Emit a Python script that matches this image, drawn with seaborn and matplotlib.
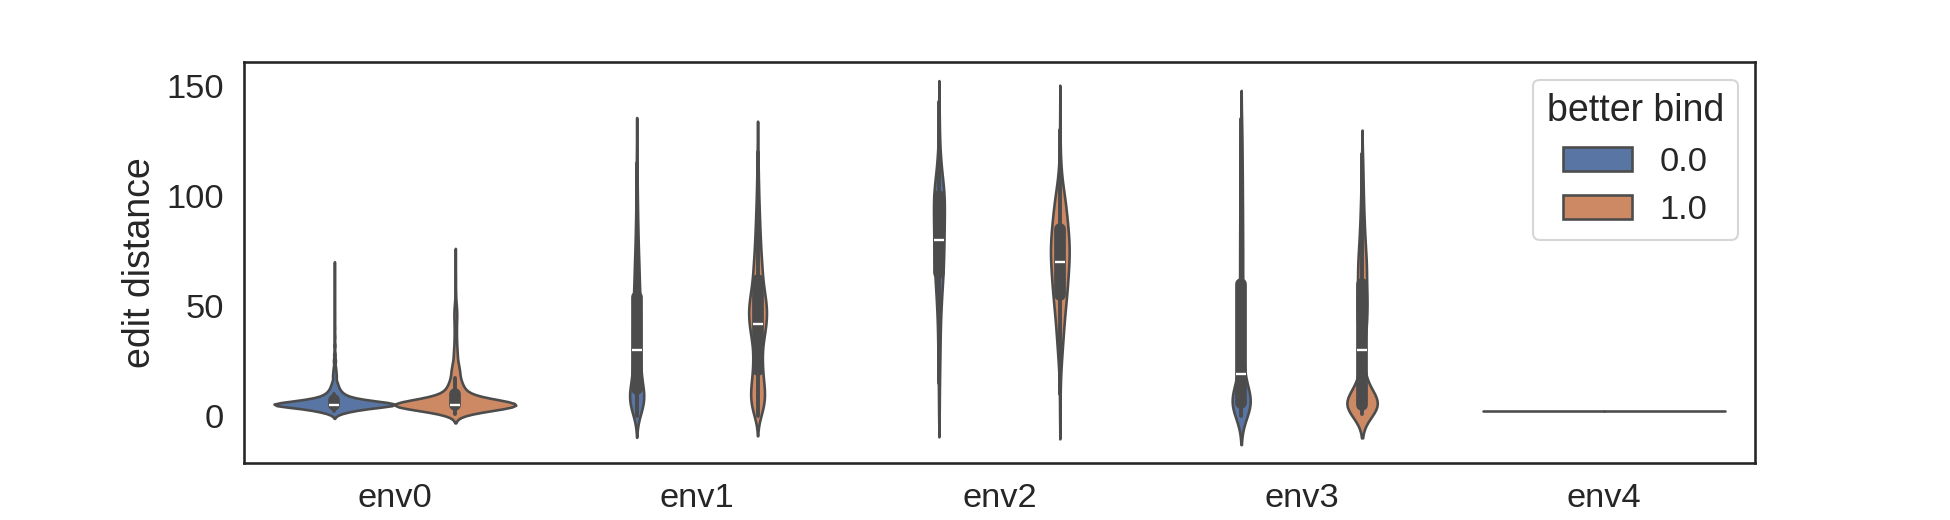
import numpy as np
import pandas as pd
import seaborn as sns
import matplotlib.pyplot as plt

envs = ["env0", "env1", "env2", "env3", "env4"]
hue_levels = [0.0, 1.0]

# edit distance values and how many samples sit at each value, per env / better bind
env0_b_vals = [1, 2, 3, 4, 5, 6, 7, 8, 9, 10, 11, 12, 13, 14, 15, 16, 18, 20, 22, 25, 28, 32, 36, 40, 45, 50, 55, 62, 68]
env0_b_cnts = [110, 270, 540, 680, 1750, 900, 700, 330, 240, 170, 125, 100, 80, 65, 55, 45, 75, 58, 46, 50, 35, 30, 22, 17, 14, 10, 7, 5, 3]
env0_o_vals = [1, 2, 3, 4, 5, 6, 7, 8, 9, 10, 11, 12, 13, 14, 15, 16, 17, 19, 21, 23, 25, 28, 31, 34, 37, 40, 43, 46, 49, 52, 56, 61, 65, 72]
env0_o_cnts = [40, 100, 180, 300, 700, 250, 170, 110, 80, 60, 50, 45, 40, 35, 32, 30, 28, 48, 40, 32, 26, 30, 22, 18, 16, 16, 18, 22, 18, 10, 6, 4, 3, 2]

env1_b_vals = [0, 3, 6, 9, 12, 15, 18, 21, 24, 27, 30, 34, 38, 42, 46, 50, 54, 58, 62, 66, 70, 75, 80, 85, 90, 95, 100, 105, 110, 115, 120, 126]
env1_b_cnts = [174, 320, 450, 480, 400, 276, 233, 218, 218, 218, 218, 291, 291, 271, 271, 252, 232, 213, 184, 165, 182, 157, 133, 109, 90, 73, 61, 48, 36, 29, 22, 15]
env1_o_vals = [0, 3, 6, 9, 12, 15, 18, 21, 24, 27, 30, 34, 38, 42, 46, 50, 54, 58, 62, 66, 70, 75, 80, 85, 90, 95, 100, 105, 110, 115, 120, 125]
env1_o_cnts = [163, 245, 306, 326, 306, 265, 224, 204, 194, 194, 204, 326, 408, 489, 530, 516, 435, 353, 285, 245, 265, 231, 197, 163, 136, 109, 85, 68, 51, 37, 27, 17]

env2_b_vals = [0, 5, 10, 15, 20, 25, 30, 35, 40, 45, 50, 55, 60, 65, 70, 75, 80, 85, 90, 95, 100, 105, 110, 115, 120, 125, 130, 135, 140, 143]
env2_b_cnts = [26, 26, 31, 41, 56, 66, 77, 90, 102, 128, 166, 204, 263, 306, 340, 358, 375, 383, 396, 409, 396, 340, 225, 151, 89, 56, 38, 26, 15, 10]
env2_o_vals = [0, 5, 10, 15, 20, 25, 30, 35, 40, 45, 50, 55, 60, 65, 70, 75, 80, 85, 90, 95, 100, 105, 110, 115, 120, 125, 130, 135, 140]
env2_o_cnts = [4, 4, 4, 7, 13, 22, 34, 44, 54, 66, 81, 96, 108, 118, 128, 135, 128, 116, 101, 85, 68, 40, 22, 12, 7, 4, 3, 2, 1]

env3_b_vals = [0, 2, 4, 6, 8, 10, 13, 16, 19, 22, 26, 30, 35, 40, 45, 50, 55, 60, 65, 70, 75, 80, 85, 90, 95, 100, 105, 110, 115, 120, 125, 130, 135]
env3_b_cnts = [189, 315, 504, 630, 567, 378, 220, 158, 158, 189, 176, 164, 189, 176, 164, 158, 145, 132, 126, 139, 132, 126, 126, 120, 113, 107, 101, 95, 88, 76, 69, 57, 44]
env3_o_vals = [1, 3, 5, 7, 9, 12, 15, 18, 22, 26, 30, 35, 40, 45, 50, 55, 60, 65, 70, 75, 80, 85, 90, 95, 100, 105, 110, 115, 119]
env3_o_cnts = [264, 528, 924, 528, 330, 231, 165, 132, 99, 66, 79, 198, 264, 297, 297, 330, 231, 297, 264, 218, 178, 145, 119, 99, 79, 66, 53, 40, 26]

env4_b_vals = [2]
env4_b_cnts = [40]
env4_o_vals = [2]
env4_o_cnts = [40]

groups = [
    ("env0", 0.0, env0_b_vals, env0_b_cnts), ("env0", 1.0, env0_o_vals, env0_o_cnts),
    ("env1", 0.0, env1_b_vals, env1_b_cnts), ("env1", 1.0, env1_o_vals, env1_o_cnts),
    ("env2", 0.0, env2_b_vals, env2_b_cnts), ("env2", 1.0, env2_o_vals, env2_o_cnts),
    ("env3", 0.0, env3_b_vals, env3_b_cnts), ("env3", 1.0, env3_o_vals, env3_o_cnts),
    ("env4", 0.0, env4_b_vals, env4_b_cnts), ("env4", 1.0, env4_o_vals, env4_o_cnts),
]

frames = []
for env, bind, vals, cnts in groups:
    d = np.repeat(vals, cnts).astype(float)
    frames.append(pd.DataFrame({"env": env, "better bind": bind, "edit distance": d}))
df = pd.concat(frames, ignore_index=True)

sns.set(style="white", font_scale=1.5)
plt.rcParams['font.family'] = ['Liberation Sans', 'DejaVu Sans']

fig, ax = plt.subplots(figsize=(13, 3.4667), dpi=150)
sns.violinplot(data=df, x="env", y="edit distance", hue="better bind",
               order=envs, hue_order=hue_levels, ax=ax)
ax.set_xlabel("")
sns.move_legend(ax, "upper right")

fig.savefig("out.png", dpi=150)
